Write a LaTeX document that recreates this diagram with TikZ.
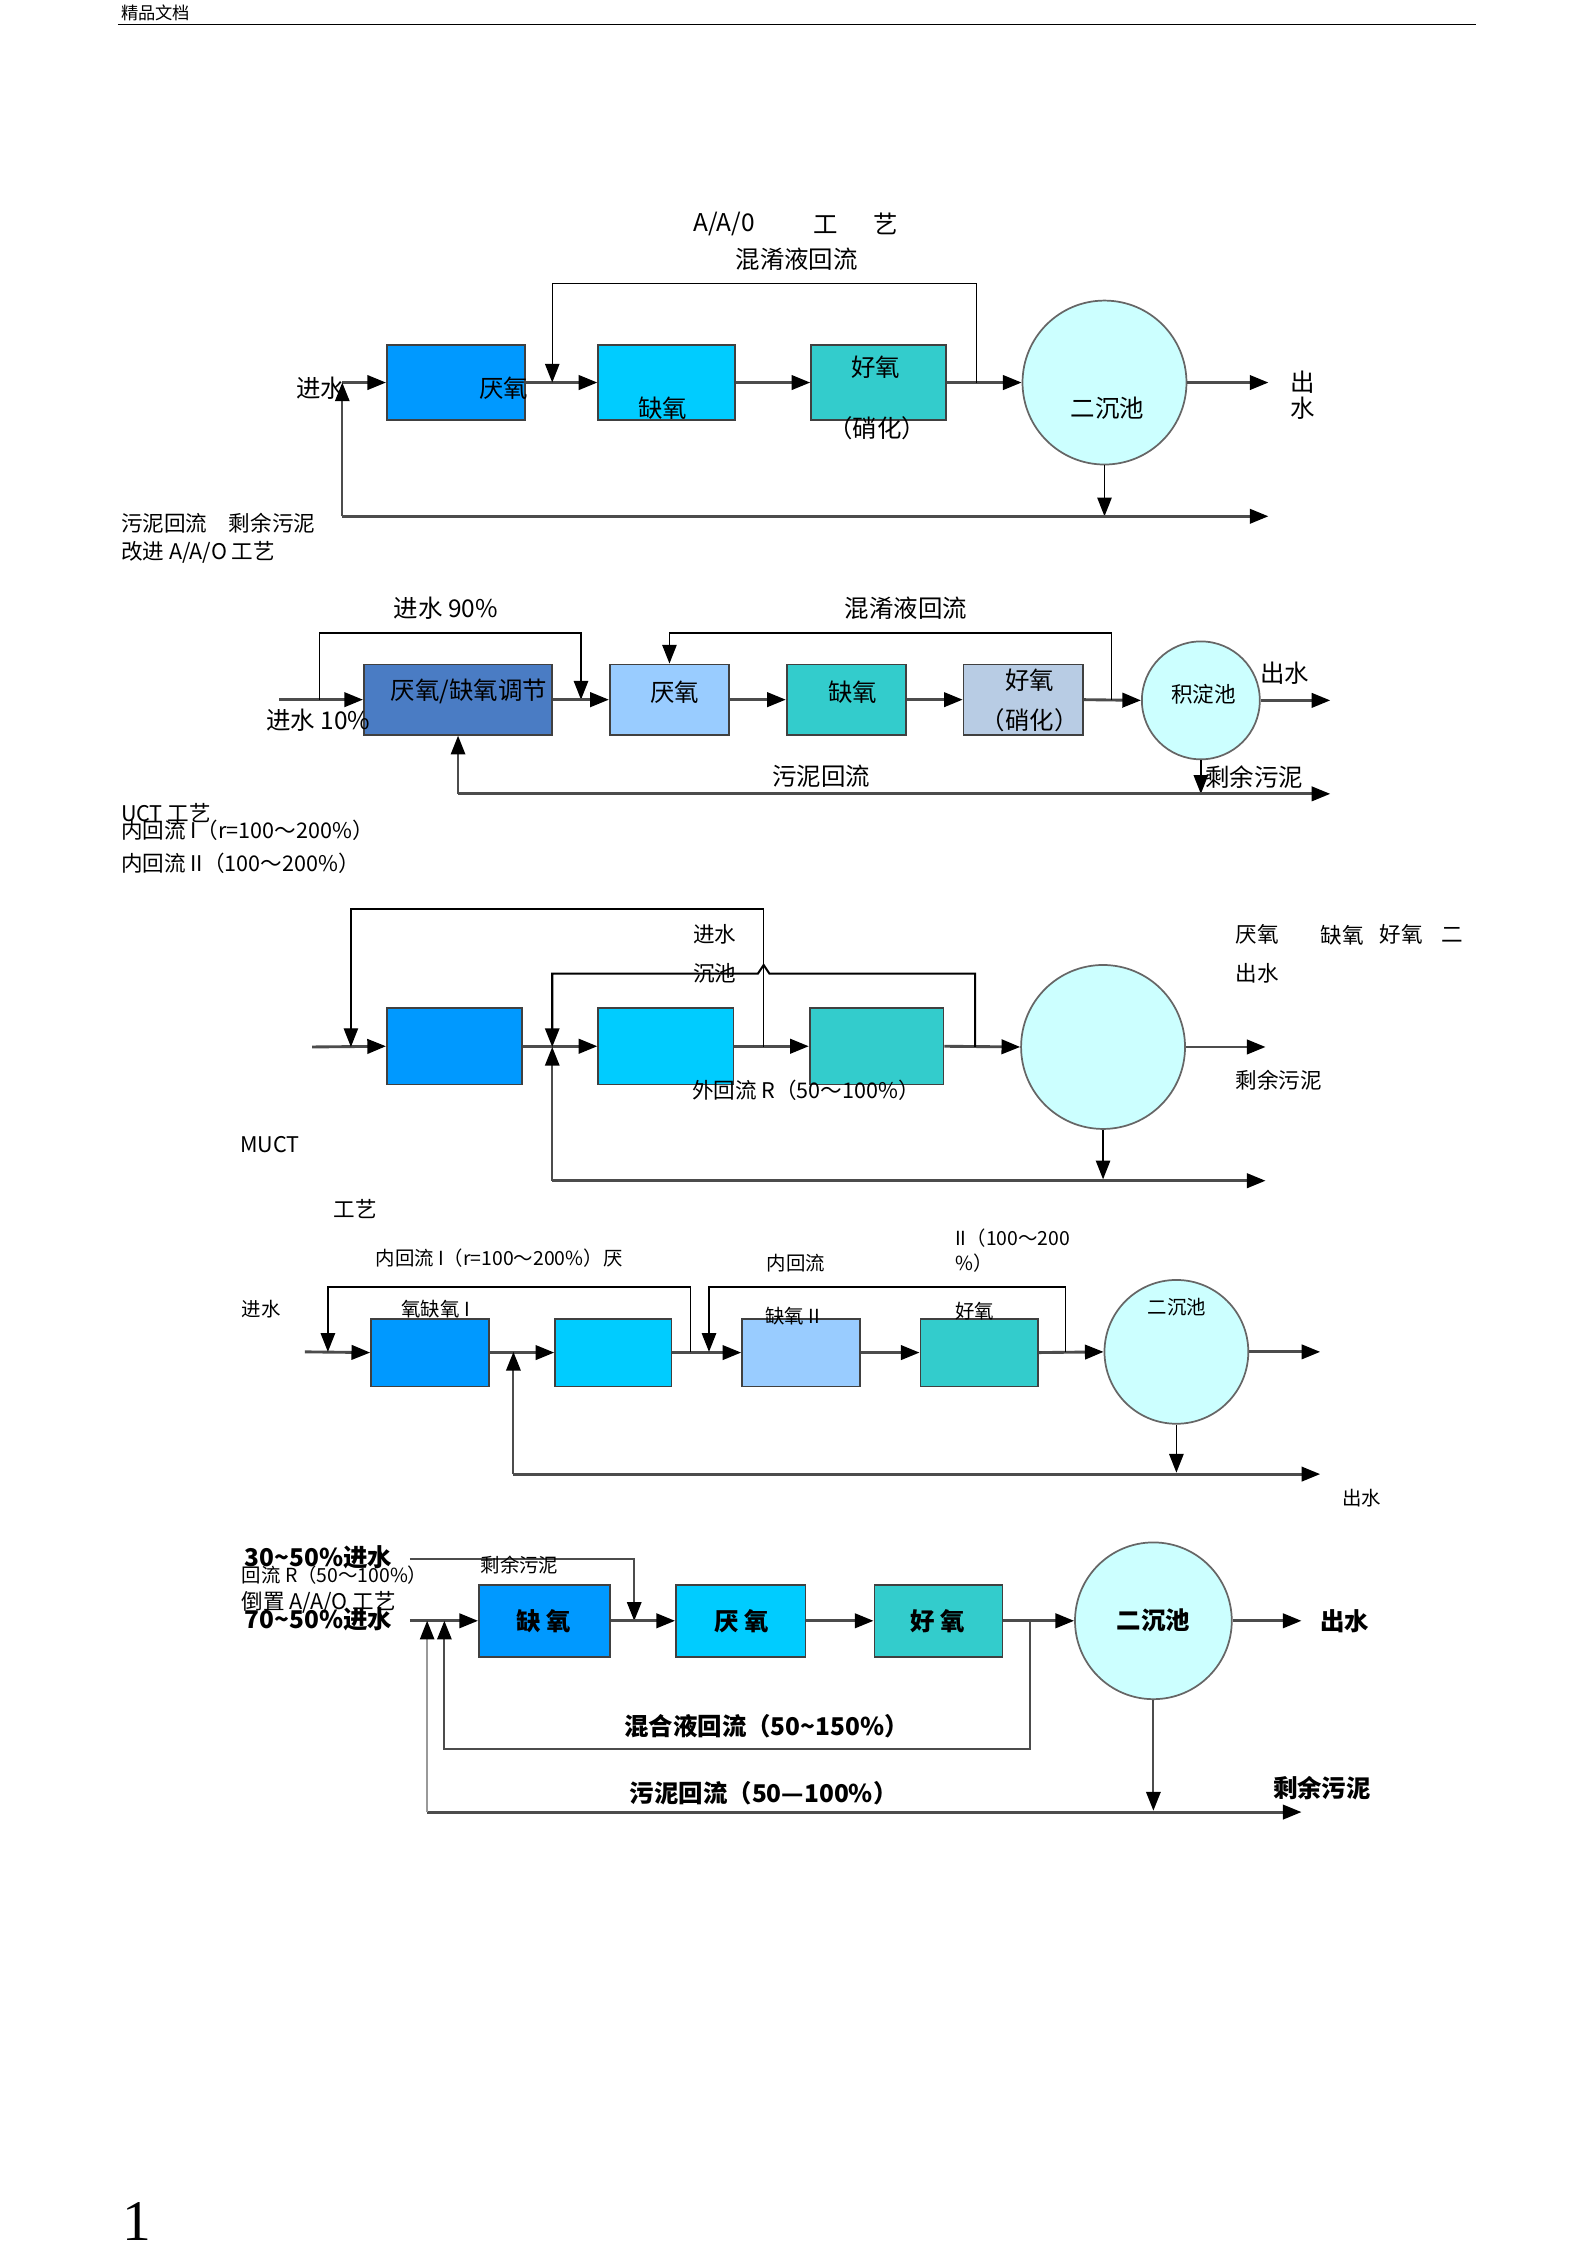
\documentclass[tikz,border=0pt]{standalone}
\usepackage{fontspec}
\setmainfont{Noto Sans CJK SC}
\newfontfamily\numfont{Liberation Serif}
\usetikzlibrary{arrows.meta,calc}
\definecolor{cA}{HTML}{0099FF}
\definecolor{cB}{HTML}{00CCFF}
\definecolor{cC}{HTML}{33CCCC}
\definecolor{cD}{HTML}{99CCFF}
\definecolor{cE}{HTML}{B8CCE4}
\definecolor{cF}{HTML}{4A7CC4}
\definecolor{cG}{HTML}{CCFFFF}
\newcommand\szL{\fontsize{17pt}{18pt}\selectfont}
\newcommand\szM{\fontsize{15pt}{16pt}\selectfont}
\newcommand\szS{\fontsize{13.5pt}{14pt}\selectfont}
\begin{document}
\begin{tikzpicture}[x=1pt,y=-1pt,
  flow/.style={draw=black!70, line width=2pt},
  ret/.style={draw=black, line width=1pt},
  arr/.style={-{Triangle[length=13pt,width=10pt,color=black]}},
  box/.style={draw=black!75, line width=1.2pt, inner sep=0pt},
  tank/.style={circle, draw=black!60, line width=1.2pt, fill=cG, inner sep=0pt},
  lbl/.style={inner sep=0pt, font=\szL},
  lblw/.style={inner sep=0pt, anchor=west},
  bld/.style={inner sep=0pt, font=\szL\bfseries}]
\useasboundingbox (0,0) rectangle (1108,1568);
\fill[white] (0,0) rectangle (1108,1568);

% header
\node[lblw, font=\fontsize{12pt}{12pt}\selectfont] (hdr) at (84,9) {精品文档};
\coordinate (hl) at (82,17); \coordinate (hr) at (1026,17);
\draw[line width=0.8pt] (hl) -- (hr);
\node[inner sep=0pt, font=\numfont\fontsize{40pt}{40pt}\selectfont] (pg) at (95,1545) {1};

% ================= Diagram 1 : A/A/O =================
\node[box, fill=cA, minimum width=96pt, minimum height=52pt] (b11) at (317,266) {};
\node[box, fill=cB, minimum width=95pt, minimum height=52pt] (b12) at (463.5,266) {};
\node[box, fill=cC, minimum width=94pt, minimum height=52pt] (b13) at (611,266) {};
\node[tank, minimum size=114pt] (c1) at (768,266) {};
\coordinate (in1) at (238,266);
\coordinate (out1) at (882,266);
\coordinate (r1a) at (679,266);
\coordinate (r1b) at (384,266);
\coordinate (t1) at (0,197);
\coordinate (s1) at (768,359);
\coordinate (bl1) at (238,359);
\coordinate (be1) at (882,359);
\draw[flow,arr] (in1) -- (b11.west);
\draw[flow,arr] (b11.east) -- (b12.west);
\draw[flow,arr] (b12.east) -- (b13.west);
\draw[flow,arr] (b13.east) -- (c1.west);
\draw[flow,arr] (c1.east) -- (out1);
\draw[ret,arr] (r1a) -- (r1a|-t1) -| (r1b);
\draw[ret,arr] (c1.south) -- (s1);
\draw[flow,arr] (bl1) -- (be1);
\draw[flow,line width=1.4pt,arr] (bl1) -- (in1);
\node[lblw, font=\szL] (t1a) at (482,156) {A/A/0};
\node[lbl] (t1b) at (574,156) {工};
\node[lbl] (t1c) at (616,156) {艺};
\node[lbl] (t1d) at (554,180) {混淆液回流};
\node[lblw, font=\szL] (t1e) at (206,270) {进水};
\node[lblw, font=\szL] (t1f) at (333,270) {厌氧};
\node[lbl] (t1g) at (461,284) {缺氧};
\node[lbl] (t1h) at (609,255) {好氧};
\node[lbl] (t1i) at (610,298) {（硝化）};
\node[lbl] (t1j) at (770,284) {二沉池};
\node[lbl] (t1k) at (906,266) {出};
\node[lbl] (t1l) at (906,284) {水};
\node[lblw, font=\szM] (t1m) at (84,364) {污泥回流\quad 剩余污泥};
\node[lblw, font=\szM] (t1n) at (84,384) {改进 A/A/O 工艺};

% ================= Diagram 2 : improved A/A/O =================
\node[box, fill=cF, minimum width=131pt, minimum height=49pt] (b21) at (318.5,486.5) {};
\node[box, fill=cD, minimum width=83pt, minimum height=49pt] (b22) at (465.5,486.5) {};
\node[box, fill=cC, minimum width=83pt, minimum height=49pt] (b23) at (588.5,486.5) {};
\node[box, fill=cE, minimum width=83pt, minimum height=49pt] (b24) at (711.5,486.5) {};
\node[tank, minimum size=82pt] (c2) at (835,487) {};
\coordinate (in2) at (194,486.5);
\coordinate (s90) at (222,486.5);
\coordinate (e90) at (404,486.5);
\coordinate (t2) at (0,440);
\coordinate (m2) at (773,486.5);
\coordinate (out2) at (925,487);
\coordinate (s2) at (835,552);
\coordinate (bl2) at (318.5,552);
\coordinate (be2) at (925,552);
\draw[flow,arr] (in2) -- (b21.west);
\draw[ret,arr] (s90) -- (s90|-t2) -| (e90);
\draw[flow,arr] (b21.east) -- (b22.west);
\draw[flow,arr] (b22.east) -- (b23.west);
\draw[flow,arr] (b23.east) -- (b24.west);
\draw[flow,arr] (b24.east) -- (c2.west);
\draw[ret,arr] (m2) -- (m2|-t2) -| (b22.north);
\draw[flow,arr] (c2.east) -- (out2);
\draw[ret,arr] (c2.south) -- (s2);
\draw[flow,arr] (bl2) -- (be2);
\draw[flow,line width=1.4pt,arr] (bl2) -- (b21.south);
\node[lbl] (t2a) at (310,423) {进水 90\%};
\node[lbl] (t2b) at (630,423) {混淆液回流};
\node[lblw, font=\szL] (t2c) at (185,501) {进水 10\%};
\node[lbl] (t2d) at (326,481) {厌氧/缺氧调节};
\node[lbl] (t2e) at (469,481) {厌氧};
\node[lbl] (t2f) at (593,481) {缺氧};
\node[lbl] (t2g) at (716,473) {好氧};
\node[lbl] (t2h) at (716,501) {（硝化）};
\node[inner sep=0pt, font=\szM] (t2i) at (837,483) {积淀池};
\node[lblw, font=\szL] (t2j) at (876,468) {出水};
\node[lblw, font=\szL] (t2k) at (838,540) {剩余污泥};
\node[lbl] (t2l) at (571,540) {污泥回流};
\node[lblw, font=\szM] (t2m) at (84,565) {UCT 工艺};
\node[lblw, font=\szM] (t2n) at (84,577) {内回流 I（r=100～200\%）};
\node[lblw, font=\szM] (t2o) at (84,600) {内回流 II（100～200\%）};

% ================= Diagram 3 : UCT =================
\node[box, fill=cA, minimum width=94pt, minimum height=53pt] (b31) at (316,727.5) {};
\node[box, fill=cB, minimum width=94pt, minimum height=53pt] (b32) at (463,727.5) {};
\node[box, fill=cC, minimum width=93pt, minimum height=53pt] (b33) at (609.5,727.5) {};
\node[tank, minimum size=114pt] (c3) at (767,728) {};
\coordinate (in3) at (217,728);
\coordinate (l1s) at (531,728);
\coordinate (l1e) at (244,728);
\coordinate (t3a) at (0,632);
\coordinate (l2s) at (678,728);
\coordinate (l2e) at (384,728);
\coordinate (t3b) at (0,677);
\coordinate (hop) at (531,677);
\coordinate (out3) at (880,728);
\coordinate (s3) at (767,820);
\coordinate (bl3) at (384,821);
\coordinate (be3) at (880,821);
\draw[flow,arr] (in3) -- (b31.west);
\draw[flow,arr] (b31.east) -- (b32.west);
\draw[flow,arr] (b32.east) -- (b33.west);
\draw[flow,arr] (b33.east) -- (c3.west);
\draw[flow,arr] (c3.east) -- (out3);
\draw[ret,arr] (l1s) -- (l1s|-t3a) -| (l1e);
\draw[ret,line width=1.4pt,arr] (l2s) -- (l2s|-t3b) -- ($(hop)+(4,0)$) -- ($(hop)+(0,-6)$) -- ($(hop)+(-4,0)$) -| (l2e);
\draw[ret,arr] (c3.south) -- (s3);
\draw[flow,arr] (bl3) -- (be3);
\draw[flow,line width=1.4pt,arr] (bl3) -- (l2e);
\node[inner sep=0pt, font=\szM] (t3a1) at (497,650) {进水};
\node[inner sep=0pt, font=\szM] (t3b1) at (497,677) {沉池};
\node[lblw, font=\szM] (t3c) at (859,650) {厌氧};
\node[lblw, font=\szM] (t3d) at (918,650) {缺氧};
\node[lblw, font=\szM] (t3e) at (959,650) {好氧};
\node[lblw, font=\szM] (t3f) at (1002,650) {二};
\node[lblw, font=\szM] (t3g) at (859,677) {出水};
\node[lblw, font=\szM] (t3h) at (859,751) {剩余污泥};
\node[lblw, font=\szM] (t3i) at (481,758) {外回流 R（50～100\%）};
\node[lblw, font=\szM] (t3j) at (167,796) {MUCT};
\node[lblw, font=\szM] (t3k) at (232,841) {工艺};

% ================= Diagram 4 : MUCT =================
\node[box, fill=cA, minimum width=82pt, minimum height=47pt] (b41) at (299,940.5) {};
\node[box, fill=cB, minimum width=81pt, minimum height=47pt] (b42) at (426.5,940.5) {};
\node[box, fill=cD, minimum width=82pt, minimum height=47pt] (b43) at (557,940.5) {};
\node[box, fill=cC, minimum width=82pt, minimum height=47pt] (b44) at (681,940.5) {};
\node[tank, minimum size=100pt] (c4) at (818,940) {};
\coordinate (in4) at (212,940);
\coordinate (k1s) at (480,940);
\coordinate (k1e) at (228,940);
\coordinate (k2s) at (741,940);
\coordinate (k2e) at (493,940);
\coordinate (t4) at (0,895);
\coordinate (out4) at (918,940);
\coordinate (s4) at (818,1024);
\coordinate (bl4) at (357,1025);
\coordinate (be4) at (918,1025);
\coordinate (j4) at (357,940);
\draw[flow,arr] (in4) -- (b41.west);
\draw[flow,arr] (b41.east) -- (b42.west);
\draw[flow,arr] (b42.east) -- (b43.west);
\draw[flow,arr] (b43.east) -- (b44.west);
\draw[flow,arr] (b44.east) -- (c4.west);
\draw[flow,arr] (c4.east) -- (out4);
\draw[ret,arr] (k1s) -- (k1s|-t4) -| (k1e);
\draw[ret,arr] (k2s) -- (k2s|-t4) -| (k2e);
\draw[ret,arr] (c4.south) -- (s4);
\draw[flow,arr] (bl4) -- (be4);
\draw[flow,line width=1.4pt,arr] (bl4) -- (j4);
\node[lblw, font=\szS] (t4a) at (664,861) {II（100～200};
\node[lblw, font=\szS] (t4b) at (664,878) {\%）};
\node[lblw, font=\szS] (t4c) at (261,875) {内回流 I（r=100～200\%）厌};
\node[lblw, font=\szS] (t4d) at (533,878) {内回流};
\node[lblw, font=\szS] (t4e) at (168,910) {进水};
\node[lblw, font=\szS] (t4f) at (279,910) {氧缺氧 I};
\node[lblw, font=\szS] (t4g) at (532,915) {缺氧 II};
\node[lblw, font=\szS] (t4h) at (664,912) {好氧};
\node[lblw, font=\szS] (t4i) at (798,909) {二沉池};
\node[lblw, font=\szS] (t4j) at (933,1042) {出水};

% ================= Diagram 5 : inverted A/A/O =================
\node[box, fill=cA, minimum width=91pt, minimum height=50pt] (b51) at (378.5,1127) {};
\node[box, fill=cB, minimum width=90pt, minimum height=50pt] (b52) at (515,1127) {};
\node[box, fill=cC, minimum width=89pt, minimum height=50pt] (b53) at (652.5,1127) {};
\node[tank, minimum size=109pt] (c5) at (802,1127) {};
\coordinate (in5) at (285,1127);
\coordinate (tp5) at (285,1084);
\coordinate (tq5) at (441,1084);
\coordinate (te5) at (441,1127);
\coordinate (ml5) at (716,1127);
\coordinate (mb5) at (0,1216);
\coordinate (me5) at (309,1127);
\coordinate (out5) at (905,1127);
\coordinate (s5) at (802,1259);
\coordinate (bl5) at (297,1260);
\coordinate (be5) at (905,1260);
\coordinate (se5) at (297,1127);
\draw[flow,arr] (in5) -- (b51.west);
\draw[flow,line width=1.4pt,arr] (tp5) -- (tq5) -- (te5);
\draw[flow,arr] (b51.east) -- (b52.west);
\draw[flow,arr] (b52.east) -- (b53.west);
\draw[flow,arr] (b53.east) -- (c5.west);
\draw[flow,arr] (c5.east) -- (out5);
\draw[flow,line width=1.4pt,arr] (ml5) -- (ml5|-mb5) -| (me5);
\draw[flow,line width=1.4pt,arr] (c5.south) -- (s5);
\draw[flow,arr] (bl5) -- (be5);
\draw[draw=black!40,line width=1.2pt,arr] (bl5) -- (se5);
\node[lblw, font=\szL\bfseries] (t5a) at (170,1083) {30\textasciitilde50\%进水};
\node[lblw, font=\szS] (t5b) at (168,1095) {回流 R（50～100\%）};
\node[lblw, font=\szM] (t5c) at (168,1114) {倒置 A/A/O 工艺};
\node[lblw, font=\szL\bfseries] (t5d) at (170,1126) {70\textasciitilde50\%进水};
\node[lblw, font=\szS] (t5e) at (334,1088) {剩余污泥};
\node[bld] (t5f) at (378,1127) {缺 氧};
\node[bld] (t5g) at (516,1127) {厌 氧};
\node[bld] (t5h) at (652,1127) {好 氧};
\node[bld] (t5i) at (802,1127) {二沉池};
\node[lblw, font=\szL\bfseries] (t5j) at (918,1127) {出水};
\node[bld] (t5k) at (533,1200) {混合液回流（50\textasciitilde150\%）};
\node[bld] (t5l) at (531,1247) {污泥回流（50—100\%）};
\node[lblw, font=\szL\bfseries] (t5m) at (885,1243) {剩余污泥};
\end{tikzpicture}
\end{document}
